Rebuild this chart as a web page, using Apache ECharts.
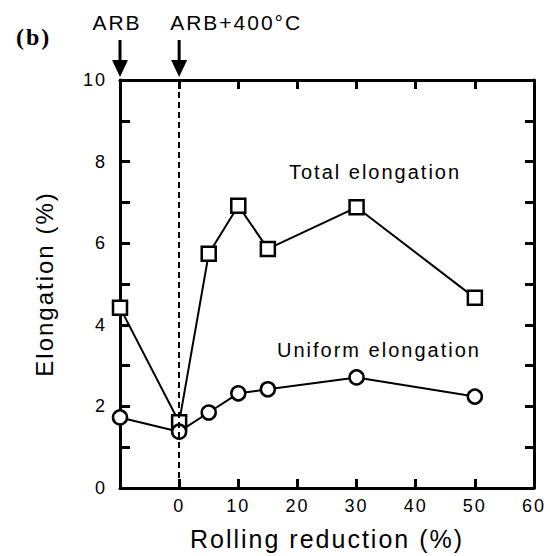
<!DOCTYPE html>
<html>
<head>
<meta charset="utf-8">
<script src="https://cdn.jsdelivr.net/npm/echarts@6/dist/echarts.min.js"></script>
<style>
  html, body { margin: 0; padding: 0; background: #fff; }
  #chart { width: 550px; height: 556px; }
  /* slightly tracked lettering, as in the printed figure */
  #chart text { letter-spacing: 2px; }
</style>
</head>
<body>
<div id="chart"></div>
<script>
// Rolling reduction (%); the ARB sample sits at the -10 slot left of 0
const reduction = [-10, 0, 5, 10, 15, 30, 50];
const totalElongation = [4.42, 1.61, 5.74, 6.92, 5.86, 6.88, 4.66];
const uniformElongation = [1.73, 1.38, 1.85, 2.32, 2.42, 2.71, 2.24];
const xTickLabels = [0, 10, 20, 30, 40, 50, 60];
const yTickLabels = [0, 2, 4, 6, 8, 10];
const stateLabels = ['ARB', 'ARB+400\u00B0C'];
const stateAt = [-10, 0];

const FONT = 'Liberation Sans, Arial, Helvetica, sans-serif';
const pairs = (ys) => reduction.map((x, i) => [x, ys[i]]);

const chart = echarts.init(document.getElementById('chart'), null, { renderer: 'svg' });

const axisLine = { show: true, onZero: false, lineStyle: { color: '#000', width: 3 } };

const option = {
  backgroundColor: '#fff',
  animation: false,
  grid: { left: 120, right: 16, top: 80, bottom: 67 },
  xAxis: [
    {
      type: 'value', position: 'bottom', min: -10, max: 60, interval: 10,
      axisLine,
      axisTick: { inside: true, length: 9, lineStyle: { color: '#000', width: 3 } },
      axisLabel: {
        margin: 9, color: '#000', fontFamily: FONT, fontSize: 18,
        formatter: (v) => (xTickLabels.indexOf(v) >= 0 ? String(v) : '')
      },
      splitLine: { show: false },
      name: 'Rolling reduction (%)', nameLocation: 'middle', nameGap: 38,
      nameTextStyle: { color: '#000', fontFamily: FONT, fontSize: 25 }
    },
    {
      type: 'value', position: 'top', min: -10, max: 60, interval: 10,
      axisLine,
      axisTick: { inside: true, length: 9, lineStyle: { color: '#000', width: 3 } },
      axisLabel: { show: false },
      splitLine: { show: false }
    }
  ],
  yAxis: [
    {
      type: 'value', position: 'left', min: 0, max: 10, interval: 1,
      axisLine,
      axisTick: { inside: true, length: 10, lineStyle: { color: '#000', width: 3 } },
      axisLabel: {
        margin: 13, color: '#000', fontFamily: FONT, fontSize: 18,
        formatter: (v) => (yTickLabels.indexOf(v) >= 0 ? String(v) : '')
      },
      splitLine: { show: false },
      name: 'Elongation (%)', nameLocation: 'middle', nameGap: 64, nameRotate: 90,
      nameTextStyle: { color: '#000', fontFamily: FONT, fontSize: 24 }
    },
    {
      type: 'value', position: 'right', min: 0, max: 10, interval: 1,
      axisLine,
      axisTick: { inside: true, length: 9, lineStyle: { color: '#000', width: 3 } },
      axisLabel: { show: false },
      splitLine: { show: false }
    }
  ],
  series: [
    {
      name: 'Total elongation', type: 'line', xAxisIndex: 0, yAxisIndex: 0,
      data: pairs(totalElongation),
      symbol: 'rect', symbolSize: 14,
      lineStyle: { color: '#000', width: 2 },
      itemStyle: { color: '#fff', borderColor: '#000', borderWidth: 2.5 },
      markLine: {
        silent: true, symbol: 'none', label: { show: false },
        lineStyle: { color: '#000', width: 2, type: [6, 4] },
        data: [{ xAxis: 0 }]
      },
      z: 3
    },
    {
      name: 'Uniform elongation', type: 'line', xAxisIndex: 0, yAxisIndex: 0,
      data: pairs(uniformElongation),
      symbol: 'circle', symbolSize: 14,
      lineStyle: { color: '#000', width: 2 },
      itemStyle: { color: '#fff', borderColor: '#000', borderWidth: 2.5 },
      z: 4
    }
  ]
};

chart.setOption(option);

// Sample-state arrows and captions above the frame, placed on the x scale
const textStyle = (size) => ({ fill: '#000', font: size + 'px ' + FONT });
const graphics = [
  { type: 'text', left: 16, top: 25, style: { text: '(b)', fill: '#000', font: 'bold 24px Liberation Serif, Times New Roman, serif' } },
  { type: 'text', x: 289, y: 172, style: Object.assign({ text: 'Total elongation', verticalAlign: 'middle' }, textStyle(20)) },
  { type: 'text', x: 277, y: 350, style: Object.assign({ text: 'Uniform elongation', verticalAlign: 'middle' }, textStyle(20)) }
];
stateAt.forEach((xv, i) => {
  const px = chart.convertToPixel({ xAxisIndex: 0 }, xv);
  graphics.push({ type: 'line', shape: { x1: px, y1: 40, x2: px, y2: 64 }, style: { stroke: '#000', lineWidth: 3 } });
  graphics.push({ type: 'polygon', shape: { points: [[px - 8, 60], [px + 8, 60], [px, 77]] }, style: { fill: '#000' } });
  graphics.push({
    type: 'text', x: i === 0 ? px - 3 : px - 9, y: 22,
    style: Object.assign({ text: stateLabels[i], align: i === 0 ? 'center' : 'left', verticalAlign: 'middle' }, textStyle(21))
  });
});
chart.setOption({ graphic: graphics });
</script>
</body>
</html>
